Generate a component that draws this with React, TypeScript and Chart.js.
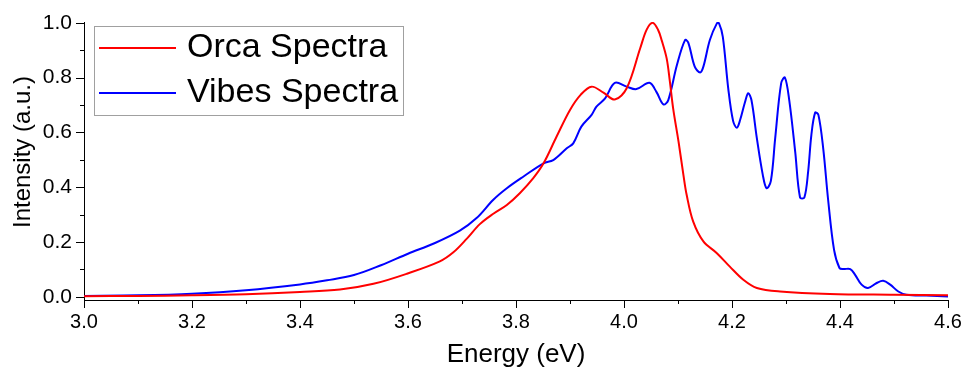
import React, { useEffect, useRef } from "react";
import { Chart, registerables } from "chart.js";

Chart.register(...registerables);

const seriesLabels = ["Orca Spectra", "Vibes Spectra"];
const seriesColors = ["#ff0000", "#0000ff"];
const xTitle = "Energy (eV)";
const yTitle = "Intensity (a.u.)";

const orcaEnergy = [
  3.0, 3.1, 3.2, 3.3, 3.4, 3.474, 3.536, 3.598, 3.659, 3.684, 3.709, 3.733, 3.758, 3.783,
  3.807, 3.832, 3.851, 3.875, 3.9, 3.92, 3.94, 3.962, 3.983, 4.005, 4.03, 4.042, 4.053,
  4.063, 4.07, 4.079, 4.085, 4.091, 4.101, 4.11, 4.116, 4.128, 4.147, 4.172, 4.196,
  4.221, 4.246, 4.289, 4.381, 4.5, 4.6,
];
const orcaIntensity = [
  0.002, 0.003, 0.005, 0.009, 0.017, 0.026, 0.047, 0.084, 0.129, 0.162, 0.212, 0.265, 0.303,
  0.335, 0.378, 0.433, 0.487, 0.584, 0.682, 0.738, 0.767, 0.745, 0.72, 0.761, 0.907, 0.975,
  1.0, 0.975, 0.935, 0.87, 0.785, 0.688, 0.566, 0.445, 0.372, 0.275, 0.202, 0.159, 0.11,
  0.062, 0.032, 0.019, 0.01, 0.007, 0.005,
];

const vibesEnergy = [
  3.0, 3.1, 3.2, 3.3, 3.4, 3.45, 3.5, 3.55, 3.6, 3.65, 3.696, 3.727, 3.758, 3.783, 3.814,
  3.851, 3.869, 3.894, 3.906, 3.921, 3.94, 3.949, 3.965, 3.983, 4.005, 4.023, 4.047, 4.06,
  4.073, 4.082, 4.098, 4.113, 4.119, 4.131, 4.141, 4.147, 4.159, 4.172, 4.176, 4.183, 4.193,
  4.202, 4.209, 4.215, 4.224, 4.23, 4.236, 4.246, 4.257, 4.264, 4.272, 4.28, 4.291, 4.298,
  4.306, 4.317, 4.326, 4.334, 4.341, 4.347, 4.354, 4.36, 4.369, 4.378, 4.389, 4.399, 4.406,
  4.419, 4.428, 4.44, 4.452, 4.468, 4.48, 4.493, 4.508, 4.523, 4.56, 4.6,
];
const vibesIntensity = [
  0.003, 0.005, 0.011, 0.024, 0.045, 0.06, 0.079, 0.115, 0.157, 0.196, 0.241, 0.287, 0.354,
  0.396, 0.439, 0.487, 0.499, 0.542, 0.56, 0.621, 0.664, 0.694, 0.724, 0.781, 0.767, 0.758,
  0.781, 0.748, 0.702, 0.718, 0.846, 0.937, 0.928, 0.84, 0.819, 0.84, 0.937, 0.998, 0.998,
  0.949, 0.761, 0.642, 0.617, 0.645, 0.71, 0.743, 0.718, 0.579, 0.445, 0.396, 0.423, 0.579,
  0.779, 0.8, 0.718, 0.53, 0.362, 0.362, 0.457, 0.591, 0.672, 0.664, 0.54, 0.354, 0.171,
  0.105, 0.101, 0.101, 0.08, 0.044, 0.032, 0.05, 0.058, 0.044, 0.019, 0.007, 0.004, 0.001,
];

const xMajorTicks = [3.0, 3.2, 3.4, 3.6, 3.8, 4.0, 4.2, 4.4, 4.6];
const xMinorTicks = [3.1, 3.3, 3.5, 3.7, 3.9, 4.1, 4.3, 4.5];
const yMajorTicks = [0.0, 0.2, 0.4, 0.6, 0.8, 1.0];
const yMinorTicks = [0.1, 0.3, 0.5, 0.7, 0.9];

const FONT = '"Liberation Sans", Arial, sans-serif';

const tickMarksPlugin = {
  id: "tickMarks",
  afterDraw(chart: any) {
    const ctx = chart.ctx;
    const xs = chart.scales.x;
    const ys = chart.scales.y;
    const axisY = chart.chartArea.bottom;
    const axisX = chart.chartArea.left;
    ctx.save();
    ctx.strokeStyle = "#000";
    ctx.lineWidth = 1;
    ctx.beginPath();
    const drawX = (v: number, len: number) => {
      const px = Math.round(xs.getPixelForValue(v)) + 0.5;
      ctx.moveTo(px, axisY);
      ctx.lineTo(px, axisY + len);
    };
    const drawY = (v: number, len: number) => {
      const py = Math.round(ys.getPixelForValue(v)) + 0.5;
      ctx.moveTo(axisX, py);
      ctx.lineTo(axisX - len, py);
    };
    xMajorTicks.forEach((v) => drawX(v, 8));
    xMinorTicks.forEach((v) => drawX(v, 4));
    yMajorTicks.forEach((v) => drawY(v, 8));
    yMinorTicks.forEach((v) => drawY(v, 4));
    ctx.stroke();

    // y-axis title
    ctx.save();
    ctx.translate(23, 152);
    ctx.rotate(-Math.PI / 2);
    ctx.fillStyle = "#000";
    ctx.font = `24px ${FONT}`;
    ctx.textAlign = "center";
    ctx.textBaseline = "middle";
    ctx.fillText(yTitle, 0, 0);
    ctx.restore();
    ctx.restore();
  },
};

const boxLegendPlugin = {
  id: "boxLegend",
  afterDraw(chart: any) {
    const ctx = chart.ctx;
    const { left, top } = chart.chartArea;
    const x0 = left + 10;
    const y0 = top + 4;
    const w = 309;
    const h = 89;
    ctx.save();
    ctx.fillStyle = "#ffffff";
    ctx.fillRect(x0, y0, w, h);
    ctx.strokeStyle = "#a0a0a0";
    ctx.lineWidth = 1;
    ctx.strokeRect(x0 + 0.5, y0 + 0.5, w, h);
    chart.data.datasets.forEach((ds: any, i: number) => {
      const cy = y0 + 22 + i * 45;
      ctx.strokeStyle = ds.borderColor;
      ctx.lineWidth = 2;
      ctx.beginPath();
      ctx.moveTo(x0 + 5, cy);
      ctx.lineTo(x0 + 82, cy);
      ctx.stroke();
      ctx.fillStyle = "#000";
      ctx.font = `34px ${FONT}`;
      ctx.textBaseline = "middle";
      ctx.textAlign = "left";
      ctx.fillText(ds.label, x0 + 93, cy);
    });
    ctx.restore();
  },
};

export default function App() {
  const canvasRef = useRef<HTMLCanvasElement | null>(null);

  useEffect(() => {
    if (!canvasRef.current) return;
    const chart = new Chart(canvasRef.current, {
      type: "line",
      data: {
        datasets: [
          {
            label: seriesLabels[0],
            data: orcaEnergy.map((x, i) => ({ x, y: orcaIntensity[i] })),
            borderColor: seriesColors[0],
            backgroundColor: seriesColors[0],
            borderWidth: 2,
            pointRadius: 0,
            tension: 0.35,
            fill: false,
          },
          {
            label: seriesLabels[1],
            data: vibesEnergy.map((x, i) => ({ x, y: vibesIntensity[i] })),
            borderColor: seriesColors[1],
            backgroundColor: seriesColors[1],
            borderWidth: 2,
            pointRadius: 0,
            tension: 0.35,
            fill: false,
          },
        ],
      },
      options: {
        animation: false,
        responsive: true,
        maintainAspectRatio: false,
        layout: { padding: { left: 0, top: 22, right: 18, bottom: 0 } },
        plugins: {
          legend: { display: false },
          tooltip: { enabled: false },
        },
        scales: {
          x: {
            type: "linear",
            min: 3.0,
            max: 4.6,
            afterBuildTicks: (scale: any) => {
              scale.ticks = xMajorTicks.map((v) => ({ value: v }));
            },
            afterFit: (scale: any) => {
              scale.height = 74;
              scale.paddingLeft = 0;
              scale.paddingRight = 0;
            },
            grid: { display: false, drawTicks: false },
            border: { display: true, color: "#000", width: 1 },
            ticks: {
              padding: 10,
              color: "#000",
              font: { family: FONT, size: 20 },
              maxRotation: 0,
              autoSkip: false,
              callback: (v: any) => Number(v).toFixed(1),
            },
            title: {
              display: true,
              text: xTitle,
              color: "#000",
              font: { family: FONT, size: 26 },
              padding: { top: 0, bottom: 4 },
            },
          },
          y: {
            type: "linear",
            min: -0.012,
            max: 1.003,
            afterBuildTicks: (scale: any) => {
              scale.ticks = yMajorTicks.map((v) => ({ value: v }));
            },
            afterFit: (scale: any) => {
              scale.width = 84;
              scale.paddingTop = 0;
              scale.paddingBottom = 0;
            },
            grid: { display: false, drawTicks: false },
            border: { display: true, color: "#000", width: 1 },
            ticks: {
              padding: 12,
              color: "#000",
              font: { family: FONT, size: 21 },
              autoSkip: false,
              callback: (v: any) => Number(v).toFixed(1),
            },
            title: { display: false },
          },
        },
      },
      plugins: [tickMarksPlugin, boxLegendPlugin],
    } as any);
    return () => chart.destroy();
  }, []);

  return (
    <div style={{ position: "fixed", left: 0, top: 0, width: 966, height: 374, background: "#fff" }}>
      <canvas ref={canvasRef} />
    </div>
  );
}
